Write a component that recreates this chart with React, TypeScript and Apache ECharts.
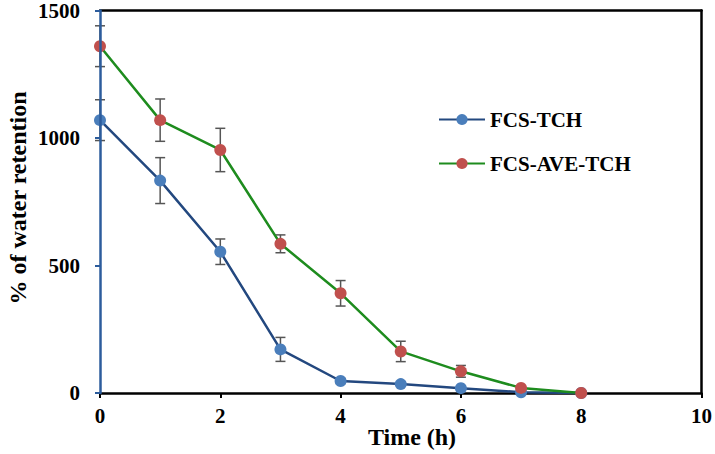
import React, { useEffect, useRef } from "react";
import * as echarts from "echarts";

const hours = [0, 1, 2, 3, 4, 5, 6, 7, 8];
const fcsTch = [1070, 833, 554, 171, 47, 35, 19, 3, 0];
const fcsTchErr = [80, 90, 50, 47, 10, 0, 0, 0, 0];
const fcsAveTch = [1360, 1070, 953, 585, 391, 163, 85, 20, 0];
const fcsAveTchErr = [80, 83, 85, 35, 50, 40, 23, 0, 0];
const seriesNames = ["FCS-TCH", "FCS-AVE-TCH"];

const FONT = "Liberation Serif";

function errSeries(vals: number[], errs: number[]) {
  return {
    type: "custom",
    z: 1,
    silent: true,
    data: hours.map((h, i) => [h, vals[i], errs[i]]),
    renderItem: (params: any, api: any) => {
      const x = api.value(0);
      const y = api.value(1);
      const e = api.value(2);
      if (!e) return null;
      const hi = api.coord([x, y + e]);
      const lo = api.coord([x, y - e]);
      const w = 5;
      const style = { stroke: "#555555", lineWidth: 1.5 };
      return {
        type: "group",
        children: [
          { type: "line", shape: { x1: hi[0], y1: hi[1], x2: lo[0], y2: lo[1] }, style },
          { type: "line", shape: { x1: hi[0] - w, y1: hi[1], x2: hi[0] + w, y2: hi[1] }, style },
          { type: "line", shape: { x1: lo[0] - w, y1: lo[1], x2: lo[0] + w, y2: lo[1] }, style },
        ],
      };
    },
  };
}

const frameAxis = {
  show: true,
  axisLine: { show: true, onZero: false, lineStyle: { color: "#000", width: 2.5 } },
  axisTick: { show: false },
  axisLabel: { show: false },
  splitLine: { show: false },
};

export default function App() {
  const ref = useRef<HTMLDivElement>(null);
  useEffect(() => {
    const chart = echarts.init(ref.current!, undefined, { renderer: "svg" });
    chart.setOption({
      animation: false,
      backgroundColor: "#ffffff",
      textStyle: { fontFamily: FONT },
      grid: { left: 100, right: 12, top: 6, bottom: 61 },
      legend: {
        orient: "vertical",
        left: 433,
        top: 104,
        itemWidth: 46,
        itemHeight: 14,
        itemGap: 23,
        data: seriesNames,
        textStyle: {
          fontFamily: FONT,
          fontWeight: "bold",
          fontSize: 21,
          color: "#000",
          lineHeight: 21,
        },
      },
      xAxis: [
        {
          type: "value",
          min: 0,
          max: 10,
          interval: 2,
          splitLine: { show: false },
          axisLine: { show: true, onZero: false, lineStyle: { color: "#000", width: 2.5 } },
          axisTick: { show: true, inside: false, length: 5, lineStyle: { color: "#000", width: 2 } },
          axisLabel: {
            margin: 12,
            fontFamily: FONT,
            fontWeight: "bold",
            fontSize: 21,
            color: "#000",
          },
        },
        { ...frameAxis, type: "value", position: "top", min: 0, max: 10 },
      ],
      yAxis: [
        {
          type: "value",
          min: 0,
          max: 1500,
          interval: 500,
          splitLine: { show: false },
          axisLine: { show: true, onZero: false, lineStyle: { color: "#2c5c9c", width: 2.5 } },
          axisTick: { show: true, inside: false, length: 5, lineStyle: { color: "#2c5c9c", width: 2 } },
          axisLabel: {
            margin: 20,
            fontFamily: FONT,
            fontWeight: "bold",
            fontSize: 21,
            color: "#000",
            formatter: (v: number) => String(v),
          },
          z: 5,
        },
        { ...frameAxis, type: "value", position: "right", min: 0, max: 1500 },
      ],
      graphic: [
        {
          type: "text",
          x: 18,
          y: 198,
          rotation: Math.PI / 2,
          style: {
            text: "% of water retention",
            fontFamily: FONT,
            fontWeight: "bold",
            fontSize: 24,
            fill: "#000",
            align: "center",
            verticalAlign: "middle",
          },
        },
        {
          type: "text",
          x: 412,
          y: 437,
          style: {
            text: "Time (h)",
            fontFamily: FONT,
            fontWeight: "bold",
            fontSize: 24,
            fill: "#000",
            align: "center",
            verticalAlign: "middle",
          },
        },
      ],
      series: [
        errSeries(fcsTch, fcsTchErr),
        errSeries(fcsAveTch, fcsAveTchErr),
        {
          name: seriesNames[0],
          type: "line",
          z: 3,
          data: hours.map((h, i) => [h, fcsTch[i]]),
          symbol: "circle",
          symbolSize: 12,
          lineStyle: { color: "#23487f", width: 2.5 },
          itemStyle: { color: "#4a7ebb" },
        },
        {
          name: seriesNames[1],
          type: "line",
          z: 4,
          data: hours.map((h, i) => [h, fcsAveTch[i]]),
          symbol: "circle",
          symbolSize: 12,
          lineStyle: { color: "#1e8c1e", width: 2.5 },
          itemStyle: { color: "#c0504d" },
        },
      ],
    });
    return () => chart.dispose();
  }, []);
  return <div ref={ref} style={{ width: 715, height: 454, position: "absolute", left: 0, top: 0 }} />;
}
